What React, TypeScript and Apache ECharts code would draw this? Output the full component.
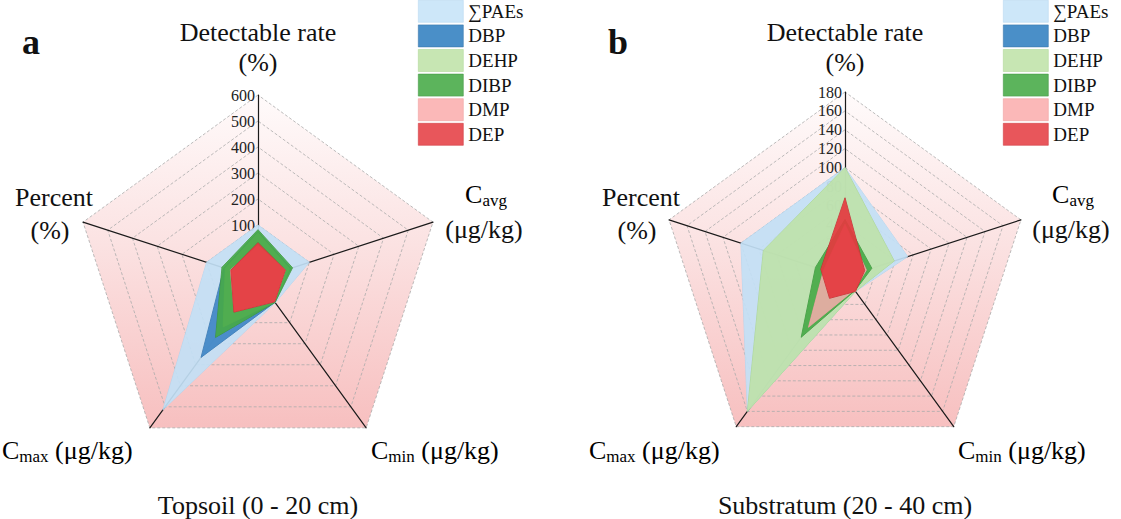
import React, { useEffect, useRef } from 'react';
import * as echarts from 'echarts';

const FONT = "'Liberation Serif', 'Times New Roman', serif";

// Indicator order (ECharts radar runs counter-clockwise from the top):
// Detectable rate, Percent, Cmax, Cmin, Cavg
const indicatorNames = ['Detectable rate (%)', 'Percent (%)', 'Cmax (μg/kg)', 'Cmin (μg/kg)', 'Cavg (μg/kg)'];
const seriesNames = ['∑PAEs', 'DBP', 'DEHP', 'DIBP', 'DMP', 'DEP'];

// a: Topsoil (0 - 20 cm), axis 0-600
const topsoilMax = 600;
const topsoilSplit = 6;
const topsoilSumPAEs = [100, 100, 515, 5, 100];
const topsoilDBP = [75, 30, 265, 3, 25];
const topsoilDEHP = [70, 25, 120, 2, 20];
const topsoilDIBP = [82, 38, 170, 4, 32];
const topsoilDMP = [22, 4, 48, 0, 3];
const topsoilDEP = [32, 2, 50, 1, 3];

// b: Substratum (20 - 40 cm), axis 0-180
const subMax = 180;
const subSplit = 9;
const subSumPAEs = [100, 100, 160, 3, 54];
const subDBP = [30, 10, 40, 1, 10];
const subDEHP = [100, 75, 160, 3, 39];
const subDIBP = [45, 17, 63, 2, 14];
const subDMP = [40, 8, 50, 1, 8];
const subDEP = [68, 11, 12, 3, 6];

const topsoilData = [topsoilSumPAEs, topsoilDBP, topsoilDEHP, topsoilDIBP, topsoilDMP, topsoilDEP];
const subData = [subSumPAEs, subDBP, subDEHP, subDIBP, subDMP, subDEP];

const legendColors = ['#cde7f9', '#4a8fc8', '#c7e6b3', '#5cb45c', '#fbb8b8', '#e8565b'];
const legendBorders = ['#b9d9f0', '#3a78ad', '#b2d89a', '#489a48', '#f0a0a0', '#d04045'];
const fillColors = ['#c2dff5', '#3d84c4', '#bde2a4', '#46a846', '#f6adad', '#e43a3f'];
const fillOpacity = [0.92, 0.9, 0.85, 0.9, 0.85, 0.92];
const lineColors = ['#b0d3ee', '#336fa6', '#a7d38f', '#3a8f3a', '#e89a9a', '#b92a2f'];

function buildSeriesData(values: number[][]) {
  return seriesNames.map((n, i) => ({
    name: n,
    value: values[i],
    symbol: 'none',
    itemStyle: { color: legendColors[i] },
    lineStyle: { color: lineColors[i], width: 0.8 },
    areaStyle: { color: fillColors[i], opacity: fillOpacity[i] },
  }));
}

function buildRadar(center: number[], radius: number[], max: number, split: number) {
  const pink = new echarts.graphic.LinearGradient(
    0, 92, 0, 430,
    [
      { offset: 0, color: '#fffbfb' },
      { offset: 0.45, color: '#fbe2e2' },
      { offset: 1, color: '#f7bfbf' },
    ],
    true
  );
  return {
    center,
    radius,
    startAngle: 90,
    splitNumber: split,
    shape: 'polygon',
    indicator: indicatorNames.map((n, i) => ({
      name: n,
      min: 0,
      max,
      ...(i === 0 ? { axisLabel: { show: true } } : {}),
    })),
    axisName: { show: false },
    axisLine: { lineStyle: { color: '#1a1a1a', width: 1.2 } },
    axisTick: { show: false },
    axisLabel: {
      show: false,
      color: '#222',
      fontSize: 16,
      fontFamily: FONT,
      margin: 3,
      showMinLabel: false,
    },
    splitLine: { lineStyle: { color: '#ababab', width: 0.8, type: [3, 2] } },
    splitArea: { show: true, areaStyle: { color: [pink] } },
  };
}

const NAME_SIZE = 26;
const SUB_SIZE = 17;

function txt(text: string, x: number, y: number, align = 'center', extra: any = {}) {
  return {
    type: 'text',
    x,
    y,
    silent: true,
    style: {
      text,
      fill: '#111',
      font: `${NAME_SIZE}px ${FONT}`,
      align,
      verticalAlign: 'middle',
      ...extra,
    },
  };
}

const richSub = {
  m: { fontSize: NAME_SIZE, fontFamily: FONT, lineHeight: 30, color: '#111' },
  s: { fontSize: SUB_SIZE, fontFamily: FONT, lineHeight: 17, verticalAlign: 'bottom', color: '#111' },
};

function subTxt(main: string, sub: string, rest: string, x: number, y: number, align = 'center') {
  return {
    type: 'text',
    x,
    y,
    silent: true,
    style: {
      text: `{m|${main}}{s|${sub}}` + (rest ? `{m|${rest}}` : ''),
      rich: richSub,
      align,
      verticalAlign: 'middle',
    },
  };
}

function panelTexts(dx: number, letter: string, title: string) {
  return [
    txt(letter, 31 + dx, 42, 'center', { font: `bold 36px ${FONT}` }),
    txt('Detectable rate', 258 + dx, 32),
    txt('(%)', 258 + dx, 62),
    txt('Percent', 54 + dx, 197),
    txt('(%)', 50 + dx, 230),
    subTxt('C', 'avg', '', 486 + dx, 194),
    txt('(μg/kg)', 484 + dx, 229),
    subTxt('C', 'max', ' (μg/kg)', 2 + dx, 450, 'left'),
    subTxt('C', 'min', ' (μg/kg)', 371 + dx, 450, 'left'),
    txt(title, 258 + dx, 505),
  ];
}

function buildLegend(left: number) {
  return {
    left,
    top: 0,
    padding: 0,
    orient: 'vertical',
    icon: 'rect',
    itemWidth: 45,
    itemHeight: 22,
    itemGap: 2,
    selectedMode: false,
    textStyle: { fontFamily: FONT, fontSize: 19, color: '#111' },
    data: seriesNames.map((n, i) => ({
      name: n,
      itemStyle: { color: legendColors[i], borderColor: legendBorders[i], borderWidth: 0.6 },
    })),
  };
}

export default function App() {
  const ref = useRef<HTMLDivElement>(null);
  useEffect(() => {
    if (!ref.current) return;
    const chart = echarts.init(ref.current, null, { renderer: 'svg' });
    chart.setOption({
      animation: false,
      backgroundColor: '#ffffff',
      legend: [buildLegend(418), buildLegend(1003)],
      radar: [
        buildRadar([258, 279], [28, 184], topsoilMax, topsoilSplit),
        buildRadar([845, 277], [15, 185], subMax, subSplit),
      ],
      series: [
        { type: 'radar', radarIndex: 0, silent: true, data: buildSeriesData(topsoilData) },
        { type: 'radar', radarIndex: 1, silent: true, data: buildSeriesData(subData) },
      ],
      graphic: {
        elements: [
          ...panelTexts(0, 'a', 'Topsoil (0 - 20 cm)'),
          ...panelTexts(587, 'b', 'Substratum (20 - 40 cm)'),
        ],
      },
    });
    return () => chart.dispose();
  }, []);
  return (
    <div
      ref={ref}
      style={{ position: 'absolute', left: 0, top: 0, width: 1121, height: 519, background: '#fff' }}
    />
  );
}
